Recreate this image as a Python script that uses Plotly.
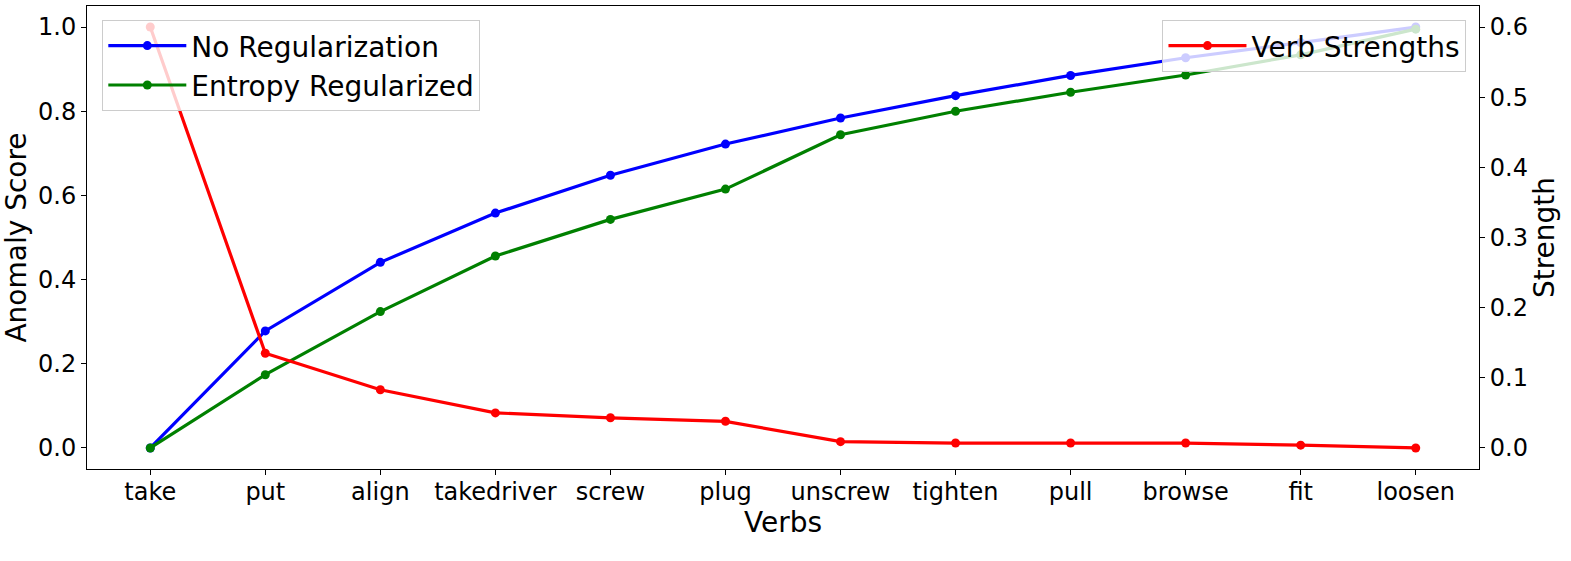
import plotly.graph_objects as go

verbs = ["take", "put", "align", "takedriver", "screw", "plug", "unscrew",
         "tighten", "pull", "browse", "fit", "loosen"]
no_reg = [0.0, 0.278, 0.441, 0.558, 0.648, 0.722, 0.784, 0.837, 0.885, 0.927, 0.963, 1.0]
entropy_reg = [0.0, 0.174, 0.324, 0.456, 0.543, 0.615, 0.744, 0.800, 0.845, 0.886, 0.934, 0.995]
strengths = [0.600, 0.135, 0.083, 0.050, 0.043, 0.038, 0.009, 0.007, 0.007, 0.007, 0.004, 0.0]

FONT = "DejaVu Sans"
x = list(range(len(verbs)))

fig = go.Figure()
fig.add_trace(go.Scatter(x=x, y=no_reg, mode="lines+markers", name="No Regularization",
                         line=dict(color="blue", width=3.2), marker=dict(size=9, color="blue"),
                         legend="legend"))
fig.add_trace(go.Scatter(x=x, y=entropy_reg, mode="lines+markers", name="Entropy Regularized",
                         line=dict(color="green", width=3.2), marker=dict(size=9, color="green"),
                         legend="legend"))
fig.add_trace(go.Scatter(x=x, y=strengths, mode="lines+markers", name="Verb Strengths",
                         line=dict(color="red", width=3.2), marker=dict(size=9, color="red"),
                         yaxis="y2", legend="legend2"))

axis_common = dict(showline=True, linecolor="black", linewidth=1, ticks="outside",
                   ticklen=5, tickcolor="black", showgrid=False, zeroline=False,
                   automargin=False,
                   tickfont=dict(family=FONT, size=24, color="black"))

fig.update_layout(
    width=1571, height=561,
    margin=dict(l=87, r=92, t=6, b=92),
    plot_bgcolor="white", paper_bgcolor="white",
    font=dict(family=FONT, color="black"),
    xaxis=dict(**axis_common, mirror=True, range=[-0.55, 11.55],
               tickmode="array", tickvals=x, ticktext=verbs, ticklabelstandoff=-4,
               title=dict(text="Verbs", font=dict(family=FONT, size=28), standoff=0)),
    yaxis=dict(**axis_common, range=[-0.05, 1.05], tickvals=[0, 0.2, 0.4, 0.6, 0.8, 1.0],
               tickformat=".1f",
               title=dict(text="Anomaly Score", font=dict(family=FONT, size=28), standoff=6)),
    yaxis2=dict(**axis_common, overlaying="y", side="right", range=[-0.03, 0.63],
                tickvals=[0, 0.1, 0.2, 0.3, 0.4, 0.5, 0.6], tickformat=".1f",
                title=dict(text="Strength", font=dict(family=FONT, size=28), standoff=6)),
    legend=dict(x=0.011, y=0.97, xanchor="left", yanchor="top",
                bgcolor="rgba(255,255,255,0.8)", bordercolor="#cccccc", borderwidth=1,
                font=dict(family=FONT, size=28), itemwidth=78, tracegroupgap=0),
    legend2=dict(x=0.991, y=0.97, xanchor="right", yanchor="top",
                 bgcolor="rgba(255,255,255,0.8)", bordercolor="#cccccc", borderwidth=1,
                 font=dict(family=FONT, size=28), itemwidth=78),
)

fig.write_html("out.html", config={"displayModeBar": False},
               post_script="document.body.style.margin='0';document.body.style.padding='0';")
